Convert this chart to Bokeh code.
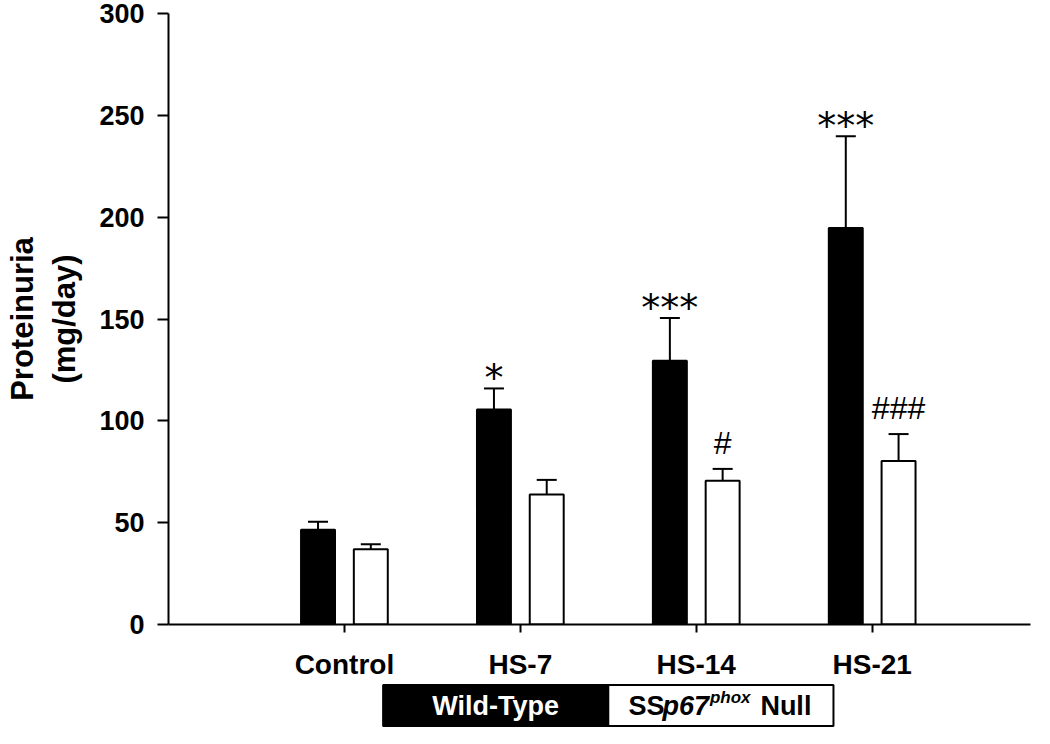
import numpy as np
from bokeh.plotting import figure
from bokeh.layouts import column
from bokeh.models import Range1d, FixedTicker, Whisker, TeeHead, ColumnDataSource
from bokeh.embed import file_html
from bokeh.resources import INLINE
from bokeh.core.properties import value

# ---------------- data ----------------
categories = ["Control", "HS-7", "HS-14", "HS-21"]
wt_mean = [46.5, 105.6, 129.5, 194.7]
wt_sem = [4.0, 10.3, 21.0, 45.0]
null_mean = [37.0, 63.8, 70.6, 80.3]
null_sem = [2.4, 7.2, 5.8, 13.2]
wt_sig = ["", "*", "***", "***"]
null_sig = ["", "", "#", "###"]
y_ticks = [0, 50, 100, 150, 200, 250, 300]
y_label = "Proteinuria\n(mg/day)"
legend_wt = "Wild-Type"
legend_null_parts = ["SS", "p67", "phox", "Null"]

# ---------------- layout constants ----------------
FONT = "Liberation Sans"
W = 1034
H_MAIN, H_LEG = 682, 46
LEFT, RIGHT = 168, 4
TOP, ZERO_PX = 13, 625
x_end = 4.9

pos = np.arange(1, len(categories) + 1, dtype=float)
dodge = 0.15
bar_w = 0.193

xr = Range1d(0, x_end)
p = figure(width=W, height=H_MAIN, x_range=xr, y_range=Range1d(0, 300),
           output_backend="svg", toolbar_location=None,
           min_border_left=LEFT, min_border_right=RIGHT,
           min_border_top=TOP, min_border_bottom=H_MAIN - ZERO_PX)
p.outline_line_color = None
p.xgrid.visible = False
p.ygrid.visible = False

xa = p.xaxis[0]
xa.ticker = FixedTicker(ticks=list(pos))
xa.major_label_overrides = {float(v): c for v, c in zip(pos, categories)}
xa.axis_line_width = 2
xa.major_tick_line_width = 2
xa.major_tick_out = 8
xa.major_tick_in = 0
xa.minor_tick_line_color = None
xa.major_label_text_font = FONT
xa.major_label_text_font_style = "bold"
xa.major_label_text_font_size = "28px"
xa.major_label_text_color = "black"
xa.major_label_standoff = 16

ya = p.yaxis[0]
ya.ticker = FixedTicker(ticks=y_ticks)
ya.axis_line_width = 2
ya.major_tick_line_width = 2
ya.major_tick_out = 11
ya.major_tick_in = 0
ya.minor_tick_line_color = None
ya.major_label_text_font = FONT
ya.major_label_text_font_style = "bold"
ya.major_label_text_font_size = "27px"
ya.major_label_text_color = "black"
ya.major_label_standoff = 13
ya.axis_label = y_label
ya.axis_label_text_font = FONT
ya.axis_label_text_font_style = "bold"
ya.axis_label_text_font_size = "31px"
ya.axis_label_text_color = "black"
ya.axis_label_standoff = 14

# ---------------- bars ----------------
x_wt = pos - dodge
x_null = pos + dodge
p.vbar(x=x_wt, top=wt_mean, bottom=0, width=bar_w, fill_color="black", line_color="black", line_width=2)
p.vbar(x=x_null, top=null_mean, bottom=0, width=bar_w, fill_color="white", line_color="black", line_width=2)

# ---------------- error bars (upper only) ----------------
wt_up = np.array(wt_mean) + np.array(wt_sem)
null_up = np.array(null_mean) + np.array(null_sem)
err_src = ColumnDataSource(dict(base=list(x_wt) + list(x_null),
                                lower=list(wt_mean) + list(null_mean),
                                upper=list(wt_up) + list(null_up)))
p.add_layout(Whisker(source=err_src, base="base", lower="lower", upper="upper", dimension="height",
                     line_width=2, line_color="black", level="glyph",
                     upper_head=TeeHead(size=20, line_width=2, line_color="black"), lower_head=None))

# ---------------- significance marks ----------------
p.text(x=x_wt, y=wt_up, text=wt_sig, text_font=value("DejaVu Sans"), text_font_size="38px",
       text_align="center", text_baseline="alphabetic", y_offset=-10, text_color="black")
p.text(x=x_null, y=null_up, text=null_sig, text_font=value(FONT), text_font_size="32px",
       text_align="center", text_baseline="alphabetic", y_offset=-26, text_color="black")

# ---------------- legend strip ----------------
leg = figure(width=W, height=H_LEG, x_range=xr, y_range=Range1d(-0.06, 1.06),
             output_backend="svg", toolbar_location=None,
             min_border_left=LEFT, min_border_right=RIGHT, min_border_top=0, min_border_bottom=0)
leg.outline_line_color = None
leg.axis.visible = False
leg.grid.visible = False

mid = pos.mean()
half = 1.28
leg.quad(left=[mid - half], right=[mid], top=[1], bottom=[0],
         fill_color="black", line_color="black", line_width=2)
leg.quad(left=[mid], right=[mid + half], top=[1], bottom=[0],
         fill_color="white", line_color="black", line_width=2)
leg.text(x=[mid - half / 2], y=[0.5], text=[legend_wt], text_font=value(FONT),
         text_font_style="bold", text_font_size="27px", text_color="white",
         text_align="center", text_baseline="middle")

cx = mid + half / 2
offsets = [-92.5, -58.5, -11.0, 39.5]
sizes = ["27px", "27px", "17px", "27px"]
styles = ["bold", "bold italic", "bold italic", "bold"]
yoffs = [0, 0, -8, 0]
for part, xo, sz, st, yo in zip(legend_null_parts, offsets, sizes, styles, yoffs):
    leg.text(x=[cx], y=[0.5], text=[part], text_font=value(FONT), text_font_style=st,
             text_font_size=sz, text_color="black", text_align="left", text_baseline="middle",
             x_offset=xo, y_offset=yo)

layout = column(p, leg, spacing=0)
open("out.html", "w").write(file_html(layout, INLINE))
